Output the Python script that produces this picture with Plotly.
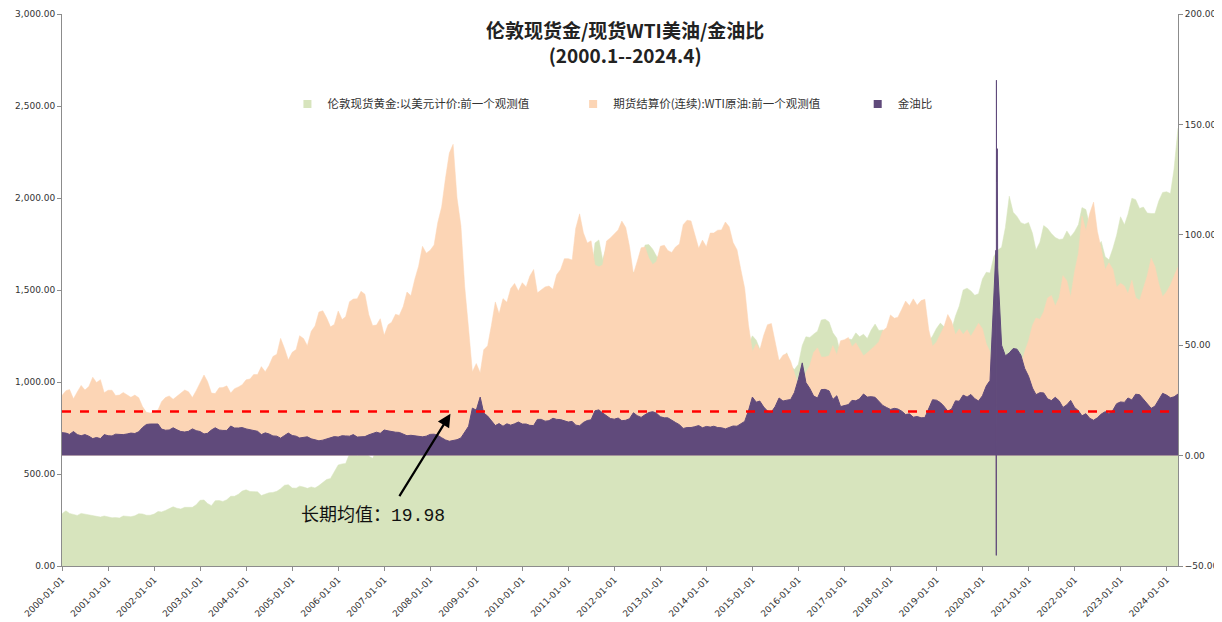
import pandas as pd
import plotly.graph_objects as go

# ---------------- data (monthly) ----------------
months = pd.date_range("2000-01-01", "2024-04-01", freq="MS")

gold = [
    284, 300, 286, 280, 275, 286, 282, 275, 274, 270, 266, 272,
    266, 262, 263, 261, 272, 270, 268, 273, 284, 283, 276, 276,
    282, 296, 294, 302, 314, 322, 314, 310, 319, 317, 319, 333,
    357, 359, 340, 328, 355, 356, 351, 360, 379, 379, 390, 407,
    414, 405, 406, 403, 383, 392, 398, 400, 406, 420, 439, 442,
    424, 423, 434, 429, 422, 430, 424, 437, 456, 470, 476, 510,
    549, 555, 557, 610, 676, 596, 633, 632, 598, 585, 627, 629,
    631, 664, 655, 679, 667, 655, 665, 665, 712, 754, 806, 803,
    889, 922, 968, 909, 888, 889, 939, 839, 829, 806, 760, 816,
    858, 943, 924, 890, 928, 946, 934, 949, 996, 1043, 1127, 1135,
    1118, 1095, 1114, 1149, 1205, 1233, 1193, 1215, 1271, 1343, 1370, 1391,
    1356, 1372, 1424, 1474, 1510, 1529, 1572, 1756, 1772, 1665, 1739, 1652,
    1656, 1742, 1674, 1650, 1585, 1596, 1594, 1626, 1744, 1747, 1722, 1684,
    1671, 1627, 1593, 1487, 1414, 1343, 1286, 1351, 1349, 1316, 1275, 1225,
    1244, 1300, 1336, 1299, 1288, 1279, 1311, 1296, 1238, 1222, 1176, 1201,
    1251, 1227, 1179, 1198, 1199, 1181, 1128, 1118, 1125, 1159, 1086, 1068,
    1097, 1199, 1246, 1242, 1260, 1276, 1337, 1341, 1326, 1267, 1238, 1152,
    1192, 1234, 1231, 1267, 1246, 1260, 1236, 1283, 1315, 1280, 1283, 1265,
    1331, 1331, 1325, 1335, 1304, 1281, 1238, 1202, 1199, 1215, 1221, 1250,
    1291, 1320, 1301, 1286, 1284, 1359, 1413, 1500, 1510, 1495, 1471, 1480,
    1560, 1597, 1592, 1683, 1716, 1732, 1840, 2010, 1922, 1900, 1866, 1858,
    1867, 1808, 1718, 1760, 1850, 1834, 1807, 1785, 1775, 1777, 1821, 1790,
    1817, 1856, 1948, 1937, 1849, 1837, 1733, 1764, 1681, 1664, 1726, 1798,
    1898, 1854, 1912, 1999, 1991, 1943, 1951, 1918, 1916, 1916, 1985, 2030,
    2034, 2024, 2159, 2380,
]

oil = [
    27.2, 29.4, 29.9, 25.7, 28.8, 31.8, 29.7, 31.3, 35.5, 33.1, 34.4, 28.5,
    29.6, 29.6, 27.2, 27.4, 28.6, 27.6, 26.4, 27.4, 26.2, 22.2, 19.6, 19.3,
    19.7, 20.7, 24.4, 26.3, 27.0, 25.5, 26.9, 28.4, 29.7, 28.9, 26.3, 29.4,
    32.9, 36.5, 33.6, 28.3, 28.1, 30.7, 30.8, 31.6, 28.3, 30.3, 31.1, 32.1,
    34.3, 34.7, 36.7, 36.7, 40.3, 38.0, 40.8, 44.9, 45.9, 53.1, 48.5, 43.3,
    46.8, 48.0, 54.3, 53.0, 49.8, 56.3, 58.7, 65.0, 65.6, 62.4, 58.3, 59.4,
    65.5, 61.6, 62.9, 69.7, 70.9, 71.0, 74.4, 73.1, 63.8, 58.9, 59.1, 62.0,
    54.5, 59.3, 60.4, 64.0, 63.5, 67.5, 74.1, 72.4, 79.9, 85.8, 94.8, 91.7,
    93.0, 95.4, 105.5, 112.6, 125.4, 137.0, 141.0, 116.7, 104.1, 76.6, 57.3, 38.0,
    41.7, 37.5, 47.9, 49.7, 59.0, 69.6, 64.2, 71.1, 69.4, 75.7, 78.0, 74.5,
    78.3, 76.4, 81.2, 84.3, 73.7, 75.3, 76.4, 76.8, 75.3, 81.9, 84.3, 89.2,
    89.2, 88.6, 102.9, 109.5, 100.9, 96.3, 97.3, 86.3, 85.5, 86.3, 97.2, 98.6,
    100.3, 102.2, 106.2, 103.3, 94.7, 82.3, 87.9, 94.1, 94.5, 89.5, 86.5, 87.9,
    94.8, 95.3, 92.9, 92.0, 94.5, 95.8, 104.6, 106.6, 106.3, 100.5, 93.9, 97.6,
    94.6, 100.8, 100.8, 102.1, 102.2, 105.8, 103.6, 96.5, 93.2, 84.4, 75.8, 59.3,
    47.2, 50.6, 47.8, 54.5, 59.3, 59.8, 50.9, 42.9, 45.5, 46.2, 42.7, 37.3,
    31.7, 28.5, 37.6, 40.8, 46.7, 48.8, 44.7, 44.7, 45.2, 49.8, 45.7, 52.0,
    52.5, 53.5, 49.3, 51.1, 48.5, 45.2, 46.6, 48.0, 49.8, 51.6, 56.6, 57.9,
    63.7, 62.2, 62.7, 66.3, 70.0, 67.9, 71.0, 68.1, 70.2, 70.8, 57.0, 49.5,
    51.4, 55.0, 58.2, 63.9, 60.8, 54.7, 57.4, 54.8, 57.0, 54.0, 57.0, 59.9,
    57.5, 50.5, 47.0, 20.3, 20.0, 35.0, 40.7, 42.3, 39.6, 39.4, 41.0, 47.0,
    52.0, 59.0, 62.3, 61.7, 65.2, 71.4, 72.5, 67.7, 71.6, 81.5, 79.2, 71.7,
    83.2, 91.6, 108.5, 101.8, 109.6, 114.8, 101.6, 93.7, 84.3, 87.3, 84.4, 76.4,
    78.1, 76.8, 73.3, 79.4, 71.6, 70.3, 76.0, 81.4, 89.4, 85.6, 77.7, 71.9,
    74.2, 77.3, 81.3, 85.4,
]

ratio = [
    10.4, 10.2, 9.6, 10.9, 9.5, 9.0, 9.5, 8.8, 7.7, 8.2, 7.7, 9.5,
    9.0, 8.9, 9.7, 9.5, 9.5, 9.8, 10.2, 10.0, 10.8, 12.7, 14.1, 14.3,
    14.3, 14.3, 12.0, 11.5, 11.6, 12.6, 11.7, 10.9, 10.7, 11.0, 12.1, 11.3,
    10.9, 9.8, 10.1, 11.6, 12.6, 11.6, 11.4, 11.4, 13.4, 12.5, 12.5, 12.7,
    12.1, 11.7, 11.1, 11.0, 9.5, 10.3, 9.8, 8.9, 8.8, 7.9, 9.1, 10.2,
    9.1, 8.8, 8.0, 8.1, 8.5, 7.6, 7.2, 6.7, 7.0, 7.5, 8.2, 8.6,
    8.4, 9.0, 8.9, 8.8, 9.5, 8.4, 8.5, 8.6, 9.4, 9.9, 10.6, 10.1,
    11.6, 11.2, 10.8, 10.6, 10.5, 9.7, 9.0, 9.2, 8.9, 8.8, 8.5, 8.8,
    9.6, 9.7, 9.2, 8.1, 7.1, 6.5, 6.7, 7.2, 8.0, 10.5, 13.3, 21.5,
    20.6, 26.5, 19.3, 17.9, 15.7, 13.6, 14.5, 13.3, 14.4, 13.8, 14.4, 15.2,
    14.3, 14.3, 13.7, 13.6, 16.4, 16.4, 15.6, 15.8, 16.9, 16.4, 16.3, 15.6,
    15.2, 15.5, 13.8, 13.5, 15.0, 15.9, 16.2, 20.3, 20.7, 19.3, 17.9, 16.8,
    16.5, 17.0, 15.8, 16.0, 16.7, 19.4, 18.1, 17.3, 18.5, 19.5, 19.9, 19.2,
    17.6, 17.1, 17.1, 16.2, 15.0, 14.0, 12.3, 12.7, 12.7, 13.1, 13.6, 12.6,
    13.2, 12.9, 13.3, 12.7, 12.6, 12.1, 12.7, 13.4, 13.3, 14.5, 15.5, 20.3,
    26.5, 24.2, 24.7, 22.0, 20.2, 19.7, 22.2, 26.1, 24.7, 25.1, 25.4, 28.6,
    34.6, 42.0, 33.1, 30.4, 27.0, 26.1, 29.9, 30.0, 29.3, 25.4, 27.1, 22.2,
    22.7, 23.1, 25.0, 24.8, 25.7, 27.9, 26.5, 26.7, 26.4, 24.8, 22.7, 21.8,
    20.9, 21.4, 21.1, 20.1, 18.6, 18.9, 17.4, 17.7, 17.1, 17.2, 21.4, 25.3,
    25.1, 24.0, 22.4, 20.1, 21.1, 24.8, 24.6, 27.4, 26.5, 27.7, 25.8, 24.7,
    27.1, 31.6, 34.0, 78.0, 85.0, 50.0, 45.2, 46.5, 48.5, 48.2, 45.5, 39.5,
    35.9, 30.6, 27.6, 28.5, 28.4, 25.7, 24.9, 26.4, 24.8, 21.8, 23.0, 25.0,
    21.8, 20.3, 18.0, 19.0, 16.9, 16.0, 17.1, 18.8, 19.9, 19.1, 20.5, 23.5,
    24.3, 24.1, 26.1, 25.2, 27.8, 27.6, 25.7, 23.6, 21.4, 22.4, 25.5, 28.2,
    27.4, 26.2, 26.6, 27.9,
]

# daily observations around the April 2020 negative-oil event
spike_dates = ["2020-03-16", "2020-04-17", "2020-04-20", "2020-04-21",
               "2020-04-22", "2020-04-28", "2020-04-30"]
spike_oil = [28.7, 18.3, -37.6, 10.0, 13.8, 12.3, 18.8]
spike_ratio = [52.0, 93.0, -45.2, 170.0, 124.0, 139.0, 91.0]

long_term_mean = 19.98

# ---------------- build ----------------
oil_s = pd.concat([pd.Series(oil, index=months),
                   pd.Series(spike_oil, index=pd.to_datetime(spike_dates))]).sort_index()
ratio_s = pd.concat([pd.Series(ratio, index=months),
                     pd.Series(spike_ratio, index=pd.to_datetime(spike_dates))]).sort_index()

C_GOLD = "#d7e4bd"
C_OIL = "#fcd5b5"
C_RATIO = "#604a7b"

names = ["伦敦现货黄金:以美元计价:前一个观测值",
         "期货结算价(连续):WTI原油:前一个观测值",
         "金油比"]

fig = go.Figure()
fig.add_trace(go.Scatter(x=months, y=gold, mode="lines", fill="tozeroy",
                         line=dict(color=C_GOLD, width=0.5), fillcolor=C_GOLD,
                         showlegend=False, yaxis="y"))
fig.add_trace(go.Scatter(x=oil_s.index, y=oil_s.values, mode="lines", fill="tozeroy",
                         line=dict(color=C_OIL, width=0.5), fillcolor=C_OIL,
                         showlegend=False, yaxis="y2"))
fig.add_trace(go.Scatter(x=ratio_s.index, y=ratio_s.values, mode="lines", fill="tozeroy",
                         line=dict(color=C_RATIO, width=1), fillcolor=C_RATIO,
                         showlegend=False, yaxis="y2"))

# legend entries (small squares, one legend box per entry)
for nm, c, lg in zip(names, [C_GOLD, C_OIL, C_RATIO], ["legend", "legend2", "legend3"]):
    fig.add_trace(go.Scatter(x=[None], y=[None], mode="markers", name=nm,
                             marker=dict(symbol="square", size=8, color=c),
                             showlegend=True, legend=lg))

# long-term mean line
fig.add_shape(type="line", xref="paper", x0=0, x1=1, yref="y2",
              y0=long_term_mean, y1=long_term_mean,
              line=dict(color="#ff0000", width=2.5, dash="dash"))

# arrow + label
fig.add_annotation(x="2008-06-10", y=19.0, xref="x", yref="y2", text="",
                   showarrow=True, arrowhead=2, arrowsize=1.2, arrowwidth=2.2,
                   arrowcolor="#000000", ax=-52, ay=84)
fig.add_annotation(x="2006-10-01", y=-27.2, xref="x", yref="y2",
                   xanchor="center", yanchor="middle",
                   text="长期均值：19.98", showarrow=False,
                   font=dict(family="Liberation Mono, Noto Sans CJK SC", size=18,
                             color="#111111"))

# title (two lines)
fig.add_annotation(x=0.5045, y=0.950, xref="paper", yref="paper", showarrow=False,
                   xanchor="center", yanchor="middle", align="center",
                   text="<b>伦敦现货金/现货WTI美油/金油比<br>(2000.1--2024.4)</b>",
                   font=dict(family="Noto Sans CJK SC", size=19, color="#222222"))

axis_common = dict(showline=True, linecolor="#8c8c8c", linewidth=1,
                   ticks="outside", ticklen=4, tickcolor="#8c8c8c",
                   showgrid=False, zeroline=False, automargin=False,
                   tickfont=dict(family="DejaVu Sans", size=9, color="#333333"))

legend_common = dict(orientation="h", y=0.837, xanchor="left", yanchor="middle",
                     itemwidth=30, visible=True,
                     font=dict(family="Noto Sans CJK SC", size=11.5, color="#333333"),
                     bgcolor="rgba(0,0,0,0)")

fig.update_layout(
    width=1214, height=614,
    margin=dict(l=54, r=44, t=6, b=56),
    paper_bgcolor="white", plot_bgcolor="white",
    showlegend=True,
    font=dict(family="Noto Sans CJK SC", color="#333333"),
    xaxis=dict(type="date", range=["2000-01-01", "2024-04-01"],
               dtick="M12", tick0="2000-01-01", tickformat="%Y-%m-%d",
               tickangle=-45, **axis_common),
    yaxis=dict(range=[0, 3000], dtick=500, tickformat=",.2f", **axis_common),
    yaxis2=dict(range=[-50, 200], dtick=50, tickformat=".2f",
                overlaying="y", side="right", **axis_common),
    legend=dict(x=0.202, **legend_common),
    legend2=dict(x=0.458, **legend_common),
    legend3=dict(x=0.713, **legend_common),
)

fig.write_html("out.html")
